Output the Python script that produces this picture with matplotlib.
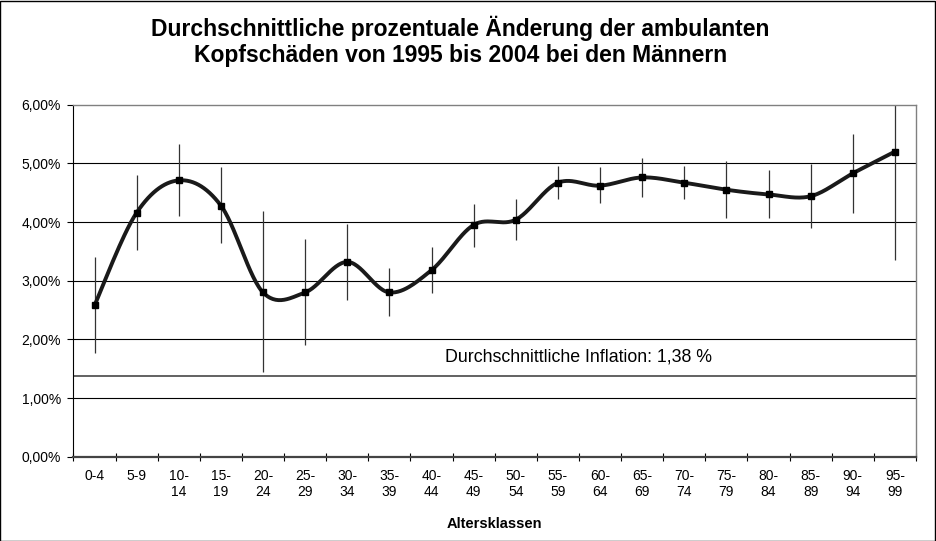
import numpy as np
import matplotlib
matplotlib.use("Agg")
import matplotlib.pyplot as plt
from matplotlib.ticker import FuncFormatter, FixedLocator
from matplotlib.patches import Rectangle

plt.rcParams['font.family'] = ['Liberation Sans', 'DejaVu Sans']

categories = ["0-4", "5-9", "10-\n14", "15-\n19", "20-\n24", "25-\n29", "30-\n34", "35-\n39",
              "40-\n44", "45-\n49", "50-\n54", "55-\n59", "60-\n64", "65-\n69", "70-\n74",
              "75-\n79", "80-\n84", "85-\n89", "90-\n94", "95-\n99"]
values = [2.58, 4.16, 4.71, 4.28, 2.80, 2.80, 3.32, 2.80, 3.18, 3.95,
          4.04, 4.67, 4.62, 4.76, 4.67, 4.55, 4.47, 4.44, 4.83, 5.20]
err_high = [3.41, 4.80, 5.33, 4.93, 4.18, 3.71, 3.96, 3.21, 3.57, 4.30,
            4.39, 4.95, 4.93, 5.09, 4.96, 5.04, 4.89, 4.99, 5.50, 6.03]
err_low = [1.76, 3.52, 4.11, 3.65, 1.45, 1.91, 2.67, 2.40, 2.79, 3.58,
           3.69, 4.40, 4.32, 4.43, 4.40, 4.07, 4.07, 3.90, 4.15, 3.36]
inflation = 1.38
title = "Durchschnittliche prozentuale Änderung der ambulanten\nKopfschäden von 1995 bis 2004 bei den Männern"
inflation_label = "Durchschnittliche Inflation: 1,38 %"
xlabel = "Altersklassen"
yticks = [0, 1, 2, 3, 4, 5, 6]


def smooth(x, y, n=30):
    # Excel-like smoothed line: Bezier with Catmull-Rom control points
    x = np.asarray(x, float)
    y = np.asarray(y, float)
    px, py = [], []
    for i in range(len(x) - 1):
        x0, y0 = (x[i - 1], y[i - 1]) if i > 0 else (x[i], y[i])
        x1, y1 = x[i], y[i]
        x2, y2 = x[i + 1], y[i + 1]
        x3, y3 = (x[i + 2], y[i + 2]) if i + 2 < len(x) else (x[i + 1], y[i + 1])
        c1x, c1y = x1 + (x2 - x0) / 6, y1 + (y2 - y0) / 6
        c2x, c2y = x2 - (x3 - x1) / 6, y2 - (y3 - y1) / 6
        t = np.linspace(0, 1, n, endpoint=(i == len(x) - 2))
        b0 = (1 - t) ** 3
        b1 = 3 * (1 - t) ** 2 * t
        b2 = 3 * (1 - t) * t ** 2
        b3 = t ** 3
        px.append(b0 * x1 + b1 * c1x + b2 * c2x + b3 * x2)
        py.append(b0 * y1 + b1 * c1y + b2 * c2y + b3 * y2)
    return np.concatenate(px), np.concatenate(py)


fig = plt.figure(figsize=(9.36, 5.41), dpi=100)
ax = fig.add_axes([0.0785, 0.1558, 0.9001, 0.6507])

xs = np.arange(len(values))
ax.set_xlim(-0.5, len(values) - 0.5)
ax.set_ylim(0, 6)

for yv in yticks[1:-1]:
    ax.axhline(yv, color='black', lw=0.8, zorder=1)
ax.axhline(inflation, color='#555555', lw=1.3, zorder=1)

ax.vlines(xs, err_low, err_high, color='#333333', lw=0.9, zorder=2, clip_on=True)
sx, sy = smooth(xs, values)
ax.plot(sx, sy, color='#1a1a1a', lw=2.8, zorder=3, solid_capstyle='round')
ax.plot(xs, values, ls='none', marker='s', ms=4, color='black', zorder=4)

ax.text(11.5, 1.70, inflation_label, ha='center', va='center', fontsize=12.8)

ax.set_yticks(yticks)
ax.yaxis.set_major_formatter(FuncFormatter(lambda v, p: f"{v:.2f}%".replace('.', ',')))
ax.set_xticks(xs)
ax.set_xticklabels(categories, fontsize=10, linespacing=1.2, va='top')
ax.xaxis.set_minor_locator(FixedLocator(np.arange(-0.5, len(values), 1.0)))
ax.tick_params(axis='x', which='major', length=0, pad=9)
ax.tick_params(axis='x', which='minor', length=6, direction='inout', width=0.8)
ax.tick_params(axis='y', length=4, direction='out', width=0.8, labelsize=10, pad=5)

for side in ['top', 'right']:
    ax.spines[side].set_color('#808080')
    ax.spines[side].set_linewidth(1.0)
ax.spines['left'].set_color('black')
ax.spines['left'].set_linewidth(0.8)
ax.spines['bottom'].set_color('#444444')
ax.spines['bottom'].set_linewidth(1.6)

ax.set_xlabel(xlabel, fontsize=10.5, fontweight='bold', labelpad=13)
fig.text(0.492, 0.924, title, ha='center', va='center', fontsize=16.5, fontweight='bold', linespacing=1.15)

fig.patches.append(Rectangle((0.0005, 0.0009), 0.998, 0.998, transform=fig.transFigure,
                             fill=False, edgecolor='black', lw=1.0))

fig.savefig("out.png", dpi=100)
